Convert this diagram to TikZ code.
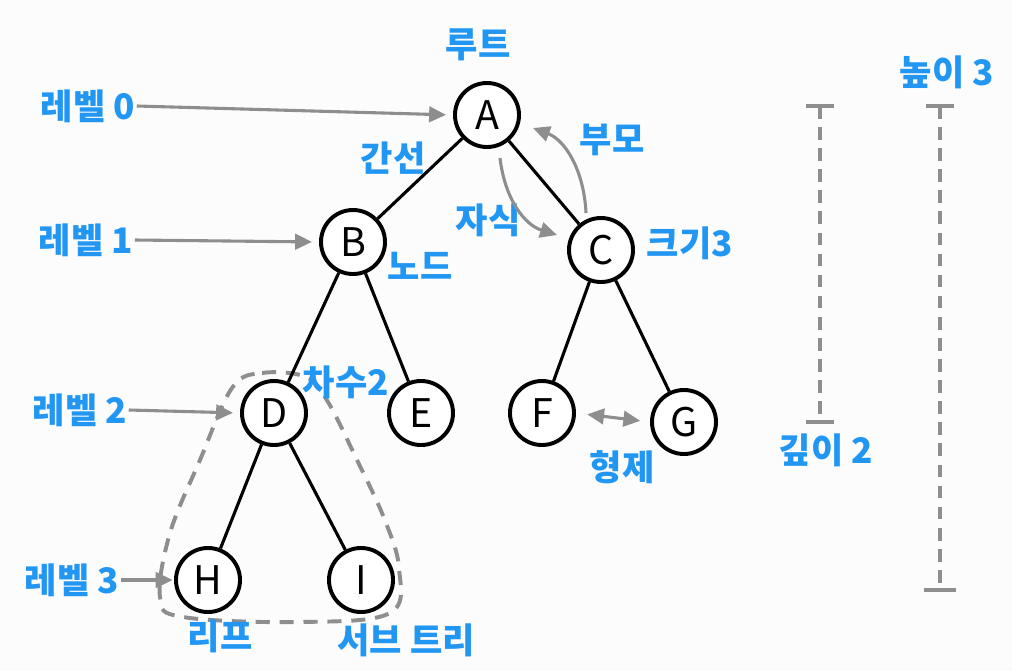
\documentclass[tikz,border=0pt]{standalone}
\usepackage{fontspec}
\setmainfont{Noto Sans CJK KR}
\usetikzlibrary{arrows.meta,positioning}
\definecolor{labelblue}{HTML}{2196F3}
\definecolor{arrowgray}{HTML}{8E8E8E}
\definecolor{paper}{HTML}{FCFCFC}

\begin{document}
\begin{tikzpicture}[x=0.025cm,y=-0.025cm,
    vertex/.style={circle,draw=black,line width=2.8pt,minimum size=1.6cm,inner sep=0pt,fill=white,font=\fontsize{28}{28}\selectfont},
    edge/.style={line width=2.2pt},
    tag/.style={text=labelblue,inner sep=1pt,font=\fontsize{25}{27}\selectfont\bfseries},
    pointer/.style={draw=arrowgray,line width=2.2pt,-{Triangle[length=12pt,width=11pt]}},
    bar/.style={draw=arrowgray,line width=2.2pt,dash pattern=on 9pt off 6pt},
    barend/.style={draw=arrowgray,line width=2.2pt}]
\fill[paper] (0,0) rectangle (1012,671);
\useasboundingbox (0,0) rectangle (1012,671);

% subtree outline
\draw[bar,line width=2.8pt,dash pattern=on 10pt off 7pt] plot[smooth cycle,tension=0.6] coordinates
    {(232,388) (262,373) (306,377) (328,402) (357,460) (384,518) (399,568)
     (390,613) (300,622) (183,617) (160,597) (170,533) (200,460)};

% tree
\node[vertex] (A) at (487,115) {A};
\node[vertex] (B) at (353,242) {B};
\node[vertex] (C) at (601,250) {C};
\node[vertex] (D) at (274,413) {D};
\node[vertex] (E) at (421,413) {E};
\node[vertex] (F) at (542,413) {F};
\node[vertex] (G) at (684,422) {G};
\node[vertex] (H) at (208,580) {H};
\node[vertex] (I) at (361,580) {I};
\draw[edge] (A) -- (B);
\draw[edge] (A) -- (C);
\draw[edge] (B) -- (D);
\draw[edge] (B) -- (E);
\draw[edge] (C) -- (F);
\draw[edge] (C) -- (G);
\draw[edge] (D) -- (H);
\draw[edge] (D) -- (I);

% labels
\node[tag] (root) at (478,45) {루트};
\node[tag] (lv0) at (88,106) {레벨 0};
\node[tag] (lv1) at (86,240) {레벨 1};
\node[tag] (lv2) at (80,410) {레벨 2};
\node[tag] (lv3) at (72,580) {레벨 3};
\node[tag] (edgetag) at (393,158) {간선};
\node[tag] (parent) at (612,140) {부모};
\node[tag] (child) at (488,220) {자식};
\node[tag] (size) at (690,243) {크기3};
\node[tag] (nodetag) at (420,266) {노드};
\node[tag] (degree) at (346,382) {차수2};
\node[tag] (leaf) at (220,636) {리프};
\node[tag] (subtree) at (406,640) {서브 트리};
\node[tag] (sibling) at (622,467) {형제};
\node[tag] (depth) at (826,450) {깊이 2};
\node[tag] (height) at (947,72) {높이 3};

% level pointers
\draw[pointer,shorten >=5pt] (lv0.east) -- (A.west);
\draw[pointer,shorten >=5pt] (lv1.east) -- (B.west);
\draw[pointer,shorten >=5pt] (lv2.east) -- (D.west);
\draw[pointer,shorten >=1pt] (lv3.east) -- (H.west);

% parent / child / sibling
\coordinate (ps) at (586,213);
\coordinate (pe) at (533,128);
\coordinate (cs) at (500,158);
\coordinate (ce) at (557,235);
\draw[pointer] (ps) .. controls (584,170) and (565,140) .. (pe);
\draw[pointer] (cs) .. controls (505,200) and (525,225) .. (ce);
\draw[pointer,{Triangle[length=12pt,width=11pt]}-{Triangle[length=12pt,width=11pt]},shorten <=8pt,shorten >=7pt] (F.east) -- (G.west);

% depth and height
\draw[bar] (820,106) -- (820,422);
\draw[barend] (806,106) -- (834,106);
\draw[barend] (806,422) -- (834,422);
\draw[bar] (940,106) -- (940,590);
\draw[barend] (926,106) -- (954,106);
\draw[barend] (924,590) -- (956,590);
\end{tikzpicture}
\end{document}
